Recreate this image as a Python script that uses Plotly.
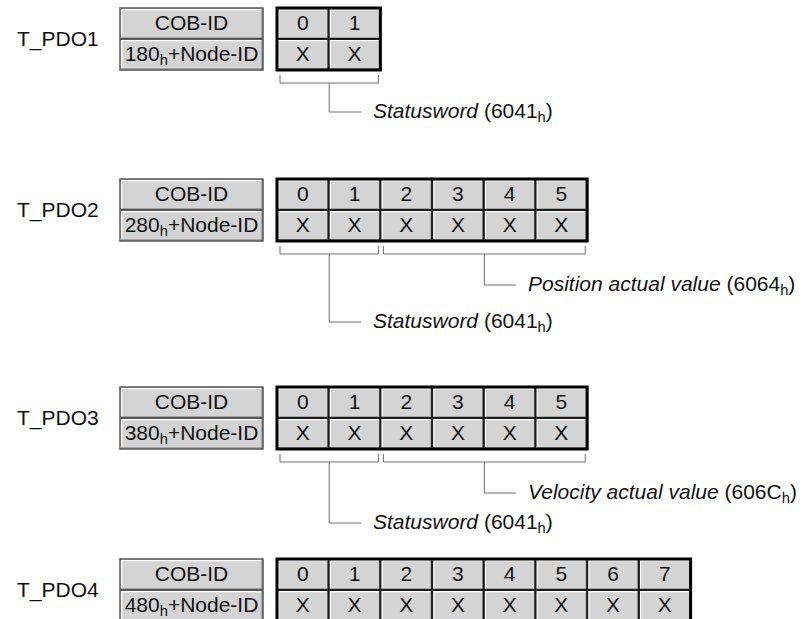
import plotly.graph_objects as go

# ---------------- data ----------------
pdo_names = ["T_PDO1", "T_PDO2", "T_PDO3", "T_PDO4"]
cob_id_bases = ["180", "280", "380", "480"]
byte_counts = [2, 6, 6, 8]
cell_value = "X"
map_names = [["Statusword"],
             ["Statusword", "Position actual value"],
             ["Statusword", "Velocity actual value"],
             []]
map_indexes = [["6041"], ["6041", "6064"], ["6041", "606C"], []]
map_first_byte = [[0], [0, 2], [0, 2], []]
map_last_byte = [[1], [1, 5], [1, 5], []]

# ---------------- layout parameters ----------------
W, H = 805, 619
table_tops = [8, 179, 387, 559]
row_h = 31
label_x = 15
cob_x0, cob_x1 = 120, 263
byte_x0 = 277
cell_w = 51.7
bracket_gap = 13
bracket_tick = 8
label_drop = [[29], [68, 31], [61, 31], []]
FONT = "Liberation Sans, Arial, sans-serif"
FS = 21
FILL = "#d4d4d4"
HI = "#ffffff"
LO = "#7a7a7a"
LINE = "#6e6e6e"

shapes = []
annotations = []
tx, ty, tt = [], [], []


def rect(x0, y0, x1, y1, fill=None, color=None, width=0):
    d = dict(type="rect", xref="x", yref="y", x0=x0, y0=y0, x1=x1, y1=y1, layer="below",
             line=dict(width=width, color=color or "rgba(0,0,0,0)"))
    if fill:
        d["fillcolor"] = fill
    shapes.append(d)


def line(x0, y0, x1, y1, color, width):
    shapes.append(dict(type="line", xref="x", yref="y", x0=x0, y0=y0, x1=x1, y1=y1,
                       layer="below", line=dict(color=color, width=width)))


def bevel_cell(x0, y0, x1, y1):
    rect(x0, y0, x1, y1, fill=FILL)
    line(x0 + 1, y0 + 1.5, x1 - 1, y0 + 1.5, HI, 1.5)
    line(x0 + 1.5, y0 + 1, x0 + 1.5, y1 - 1, HI, 1.5)
    line(x0 + 1, y1 - 1, x1 - 1, y1 - 1, LO, 1)
    line(x1 - 1, y0 + 1, x1 - 1, y1 - 1, LO, 1)


for i, name in enumerate(pdo_names):
    top = table_tops[i]
    mid = top + row_h
    bot = top + 2 * row_h

    # PDO name
    annotations.append(dict(x=label_x, y=top + row_h, xref="x", yref="y", text=name,
                            showarrow=False, xanchor="left", yanchor="middle",
                            font=dict(family=FONT, size=FS, color="#111")))

    # COB-ID box
    bevel_cell(cob_x0, top, cob_x1, mid)
    bevel_cell(cob_x0, mid, cob_x1, bot)
    line(cob_x0, mid, cob_x1, mid, "#333", 1.5)
    rect(cob_x0, top, cob_x1, bot, color="#555", width=1.5)
    tx += [(cob_x0 + cob_x1) / 2, (cob_x0 + cob_x1) / 2]
    ty += [top + row_h / 2 + 1, mid + row_h / 2 + 1]
    tt += ["COB-ID", cob_id_bases[i] + "<sub>h</sub>+Node-ID"]

    # byte table
    n = byte_counts[i]
    x_end = byte_x0 + n * cell_w
    for j in range(n):
        cx0 = byte_x0 + j * cell_w
        cx1 = cx0 + cell_w
        bevel_cell(cx0, top, cx1, mid)
        bevel_cell(cx0, mid, cx1, bot)
        tx += [(cx0 + cx1) / 2, (cx0 + cx1) / 2]
        ty += [top + row_h / 2 + 1, mid + row_h / 2 + 1]
        tt += [str(j), cell_value]
        if j > 0:
            line(cx0, top, cx0, bot, "#1a1a1a", 2)
    line(byte_x0, mid, x_end, mid, "#1a1a1a", 2)
    rect(byte_x0, top, x_end, bot, color="#000", width=3)

    # brackets and labels
    yb = bot + bracket_gap
    for k, mname in enumerate(map_names[i]):
        bx0 = byte_x0 + map_first_byte[i][k] * cell_w + 3
        bx1 = byte_x0 + (map_last_byte[i][k] + 1) * cell_w - 2
        bm = (bx0 + bx1) / 2
        shapes.append(dict(type="path", xref="x", yref="y", layer="below",
                           path=f"M {bx0},{yb - bracket_tick} L {bx0},{yb} L {bx1},{yb} L {bx1},{yb - bracket_tick}",
                           line=dict(color=LINE, width=1)))
        ly = yb + label_drop[i][k]
        shapes.append(dict(type="path", xref="x", yref="y", layer="below",
                           path=f"M {bm},{yb} L {bm},{ly} L {bm + 32},{ly}",
                           line=dict(color=LINE, width=1)))
        annotations.append(dict(x=bm + 42, y=ly, xref="x", yref="y",
                                text=f"<i>{mname}</i> ({map_indexes[i][k]}<sub>h</sub>)",
                                showarrow=False, xanchor="left", yanchor="middle",
                                font=dict(family=FONT, size=FS, color="#111")))

fig = go.Figure()
fig.add_trace(go.Scatter(x=tx, y=ty, text=tt, mode="text", textposition="middle center",
                         textfont=dict(family=FONT, size=FS, color="#111"),
                         cliponaxis=False, hoverinfo="skip", showlegend=False))
fig.update_layout(width=W, height=H, margin=dict(l=0, r=0, t=0, b=0),
                  paper_bgcolor="white", plot_bgcolor="white",
                  shapes=shapes, annotations=annotations, showlegend=False,
                  xaxis=dict(range=[0, W], visible=False, fixedrange=True),
                  yaxis=dict(range=[H, 0], visible=False, fixedrange=True))
fig.write_html("out.html", config={"displayModeBar": False},
               post_script="document.body.style.margin='0';document.body.style.overflow='hidden';")
